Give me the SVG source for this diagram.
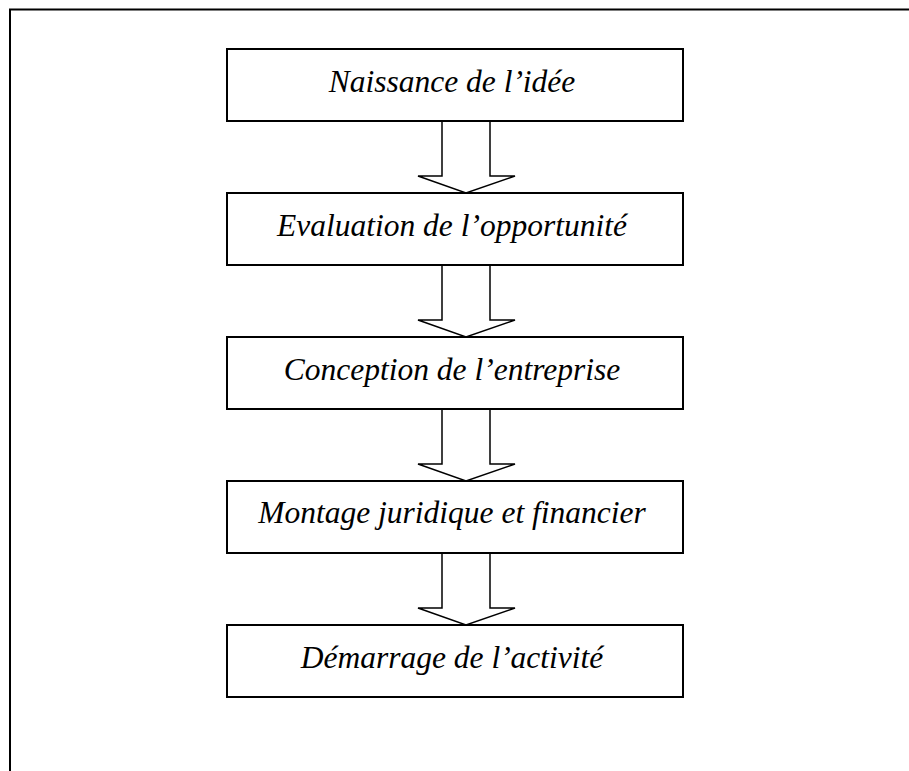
<svg xmlns="http://www.w3.org/2000/svg" width="909" height="771" viewBox="0 0 909 771">
<style>
.box{fill:#fff;stroke:#000;stroke-width:2}
.lbl{font-family:"Liberation Serif","Times New Roman",serif;font-style:italic;font-size:31.5px;fill:#000;text-anchor:middle}
.arr{fill:#fff;stroke:#000;stroke-width:1.5;stroke-linejoin:miter}
</style>
<defs>
<path id="arrow" class="arr" d="M442,0 V55 H418 L466,72 L515,55 H490 V0"/>
</defs>
<rect width="909" height="771" fill="#fff"/>
<path d="M10,772 V9.5 H910" fill="none" stroke="#000" stroke-width="2"/>
<g id="connectors">
<use href="#arrow" y="121"/>
<use href="#arrow" y="265"/>
<use href="#arrow" y="409"/>
<use href="#arrow" y="553"/>
</g>
<g id="n1"><rect class="box" x="227" y="49" width="456" height="72"/><text class="lbl" x="452" y="91.5">Naissance de l’idée</text></g>
<g id="n2"><rect class="box" x="227" y="193" width="456" height="72"/><text class="lbl" x="452" y="235.5">Evaluation de l’opportunité</text></g>
<g id="n3"><rect class="box" x="227" y="337" width="456" height="72"/><text class="lbl" x="452" y="379.5">Conception de l’entreprise</text></g>
<g id="n4"><rect class="box" x="227" y="481" width="456" height="72"/><text class="lbl" x="452" y="522.5">Montage juridique et financier</text></g>
<g id="n5"><rect class="box" x="227" y="625" width="456" height="72"/><text class="lbl" x="452" y="667.5">Démarrage de l’activité</text></g>
</svg>
